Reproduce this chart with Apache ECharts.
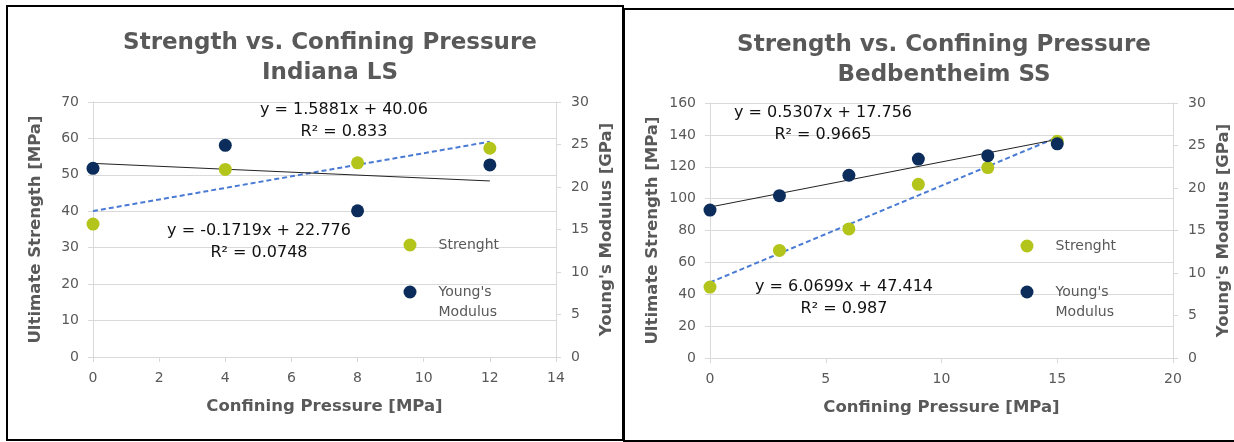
<!DOCTYPE html>
<html><head><meta charset="utf-8">
<script src="https://cdn.jsdelivr.net/npm/echarts@6/dist/echarts.min.js"></script>
<style>html,body{margin:0;padding:0;background:#fff}#c{width:1234px;height:442px}</style>
</head><body><div id="c"></div>
<script>
// ---------- data ----------
const leftPressure = [0, 4, 8, 12];
const leftStrength = [36.5, 51.5, 53.3, 57.3];          // MPa
const leftModulus = [22.2, 24.9, 17.2, 22.6];           // GPa
const leftStrengthTrend = [[0, 40.06], [12, 59.12]];
const leftModulusTrend = [[0, 22.78], [12, 20.71]];

const rightPressure = [0, 3, 6, 9, 12, 15];
const rightStrength = [44.5, 67.5, 81, 109, 119.5, 136]; // MPa
const rightModulus = [17.4, 19.1, 21.5, 23.4, 23.8, 25.2]; // GPa
const rightStrengthTrend = [[0, 47.41], [15, 138.46]];
const rightModulusTrend = [[0, 17.76], [15, 25.72]];

const chartTitles = ['Strength vs. Confining Pressure\nIndiana LS', 'Strength vs. Confining Pressure\nBedbentheim SS'];
const xAxisTitle = 'Confining Pressure [MPa]';
const yLeftTitle = 'Ultimate Strength [MPa]';
const yRightTitle = "Young's Modulus [GPa]";
const seriesNames = ['Strenght', "Young's\nModulus"];
const equationLabels = [
  'y = 1.5881x + 40.06\nR² = 0.833',
  'y = -0.1719x + 22.776\nR² = 0.0748',
  'y = 0.5307x + 17.756\nR² = 0.9665',
  'y = 6.0699x + 47.414\nR² = 0.987'
];

// ---------- styling ----------
const FONT = 'DejaVu Sans';
const GREEN = '#b3c51b';
const NAVY = '#0c2d5b';
const GREY = '#595959';
const LINEC = '#d9d9d9';

const pairs = (xs, ys) => xs.map((x, i) => [x, ys[i]]);

function xAxisDef(idx, max, interval) {
  return {
    gridIndex: idx, type: 'value', min: 0, max: max, interval: interval,
    name: xAxisTitle, nameLocation: 'middle', nameGap: 41,
    nameTextStyle: {fontFamily: FONT, fontWeight: 'bold', fontSize: 16.5, color: GREY},
    axisLine: {show: true, onZero: false, lineStyle: {color: LINEC, width: 1}},
    axisTick: {show: true, length: 5, lineStyle: {color: LINEC}},
    axisLabel: {color: GREY, fontFamily: FONT, fontSize: 14, margin: 14},
    splitLine: {show: false}
  };
}
function yAxisDef(idx, max, interval, right) {
  return {
    gridIndex: idx, type: 'value', min: 0, max: max, interval: interval,
    position: right ? 'right' : 'left',
    name: right ? yRightTitle : yLeftTitle, nameLocation: 'middle', nameGap: right ? 42 : 49,
    nameRotate: 90,
    nameTextStyle: {fontFamily: FONT, fontWeight: 'bold', fontSize: 16.5, color: GREY},
    axisLine: {show: true, onZero: false, lineStyle: {color: LINEC, width: 1}},
    axisTick: {show: true, length: 5, lineStyle: {color: LINEC}},
    axisLabel: {color: GREY, fontFamily: FONT, fontSize: 14, margin: right ? 15 : 14},
    splitLine: {show: !right, lineStyle: {color: LINEC, width: 1}}
  };
}
function scatter(name, xi, yi, data, color) {
  return {name: name, type: 'scatter', xAxisIndex: xi, yAxisIndex: yi, data: data,
    symbol: 'circle', symbolSize: 13, itemStyle: {color: color, opacity: 1}, z: 5, silent: true};
}
function trend(xi, yi, data, dashed) {
  return {type: 'line', xAxisIndex: xi, yAxisIndex: yi, data: data, showSymbol: false, symbol: 'none',
    lineStyle: dashed ? {color: '#4a7bd4', width: 2, type: [5, 3]} : {color: '#222', width: 1},
    z: 3, silent: true, animation: false};
}
function legendDef(name, left, top, multi) {
  return {
    data: [{name: name, icon: 'circle'}], orient: 'vertical', left: left, top: top, padding: 0,
    itemWidth: 47, itemHeight: 13, selectedMode: false,
    formatter: multi ? (n => ' \n' + n) : (n => n),
    textStyle: {color: GREY, fontFamily: FONT, fontSize: 14, lineHeight: 20}
  };
}
function eqText(text, x, y) {
  return {type: 'text', x: x, y: y, z: 10, style: {text: text, align: 'center', verticalAlign: 'middle',
    fill: '#111', fontFamily: FONT, fontSize: 16, lineHeight: 22}};
}

const chart = echarts.init(document.getElementById('c'), null, {renderer: 'canvas'});
chart.setOption({
  animation: false,
  backgroundColor: '#fff',
  title: [
    {text: chartTitles[0], left: 330, top: 28, padding: 0, textAlign: 'center',
      textStyle: {fontFamily: FONT, fontWeight: 'bold', fontSize: 23, lineHeight: 30, color: GREY}},
    {text: chartTitles[1], left: 944, top: 30, padding: 0, textAlign: 'center',
      textStyle: {fontFamily: FONT, fontWeight: 'bold', fontSize: 23, lineHeight: 30, color: GREY}}
  ],
  grid: [
    {left: 93, top: 102, width: 463, height: 255, containLabel: false},
    {left: 710, top: 103, width: 463, height: 255, containLabel: false}
  ],
  xAxis: [xAxisDef(0, 14, 2), xAxisDef(1, 20, 5)],
  yAxis: [yAxisDef(0, 70, 10, false), yAxisDef(0, 30, 5, true), yAxisDef(1, 160, 20, false), yAxisDef(1, 30, 5, true)],
  legend: [
    legendDef(seriesNames[0], 403.5, 235, false),
    legendDef(seriesNames[1], 403.5, 262, true),
    legendDef(seriesNames[0], 1020.5, 236, false),
    legendDef(seriesNames[1], 1020.5, 262, true)
  ],
  series: [
    trend(0, 0, leftStrengthTrend, true),
    trend(0, 1, leftModulusTrend, false),
    scatter(seriesNames[0], 0, 0, pairs(leftPressure, leftStrength), GREEN),
    scatter(seriesNames[1], 0, 1, pairs(leftPressure, leftModulus), NAVY),
    trend(1, 2, rightStrengthTrend, true),
    trend(1, 3, rightModulusTrend, false),
    scatter(seriesNames[0], 1, 2, pairs(rightPressure, rightStrength), GREEN),
    scatter(seriesNames[1], 1, 3, pairs(rightPressure, rightModulus), NAVY)
  ],
  graphic: [
    {type: 'rect', shape: {x: 7, y: 6, width: 616, height: 434}, style: {fill: 'none', stroke: '#000', lineWidth: 2}, z: 0, silent: true},
    {type: 'rect', shape: {x: 624, y: 9, width: 620, height: 432}, style: {fill: 'none', stroke: '#000', lineWidth: 2}, z: 0, silent: true},
    eqText(equationLabels[0], 344, 121),
    eqText(equationLabels[1], 259, 242),
    eqText(equationLabels[2], 823, 124),
    eqText(equationLabels[3], 844, 298)
  ]
});
</script></body></html>
